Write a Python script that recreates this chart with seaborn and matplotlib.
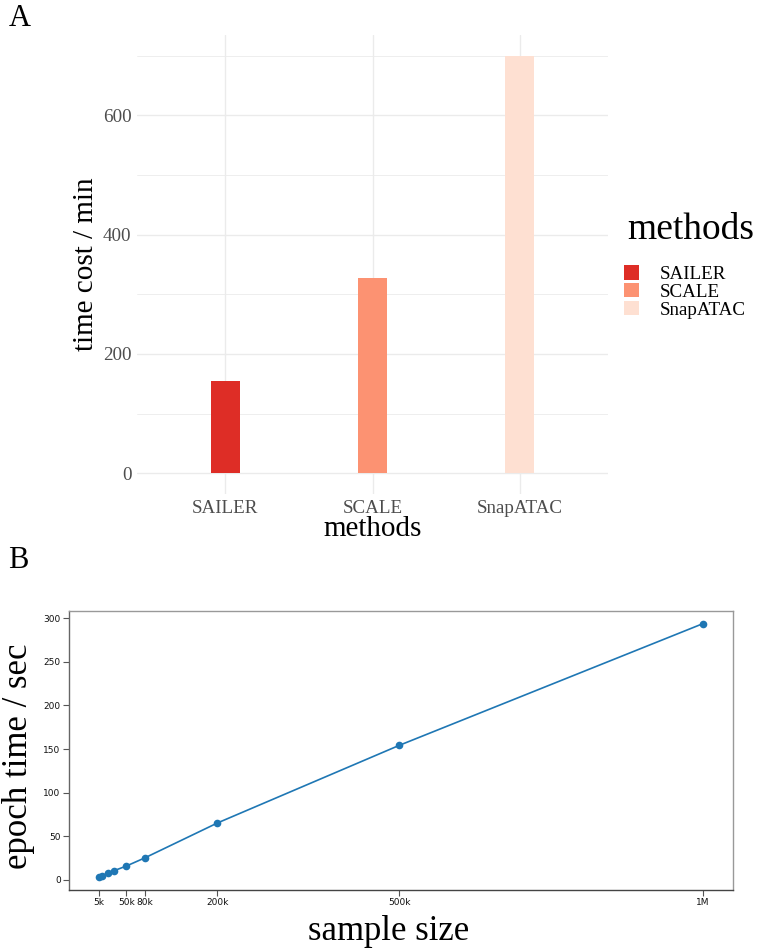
import matplotlib
matplotlib.use("Agg")
import matplotlib.pyplot as plt
from matplotlib.patches import Patch
from matplotlib.ticker import FixedLocator, MultipleLocator
import seaborn as sns
import pandas as pd

# Panel A: total run time per method
methods = ["SAILER", "SCALE", "SnapATAC"]
time_cost_min = [155, 327, 700]
method_colors = ["#DE2D26", "#FC9272", "#FEE0D2"]

# Panel B: epoch time versus number of cells
sample_sizes = [5000, 10000, 20000, 30000, 50000, 80000, 200000, 500000, 1000000]
epoch_time_sec = [3, 4.6, 8, 10.7, 16, 25.2, 65.3, 154.3, 293.6]
size_ticks = [5000, 50000, 80000, 200000, 500000, 1000000]
size_tick_labels = ["5k", "50k", "80k", "200k", "500k", "1M"]

sns.set_theme(style="white")
plt.rcParams["font.family"] = ["Liberation Serif", "DejaVu Serif"]
plt.rcParams["text.color"] = "black"
plt.rcParams["axes.labelcolor"] = "black"

W, H = 757, 948
fig = plt.figure(figsize=(W / 100, H / 100), dpi=100)


def box(left, top, right, bottom):
    return [left / W, 1 - bottom / H, (right - left) / W, (bottom - top) / H]


# ---------------- Panel A ----------------
axA = fig.add_axes(box(137, 35, 608, 494))
dfA = pd.DataFrame({"methods": methods, "time": time_cost_min})
sns.barplot(data=dfA, x="methods", y="time", hue="methods", order=methods,
            hue_order=methods, palette=method_colors, width=0.2, saturation=1,
            linewidth=0, legend=False, ax=axA)
axA.set_xlim(-0.6, 2.6)
axA.set_ylim(-35, 735)
axA.yaxis.set_major_locator(FixedLocator([0, 200, 400, 600]))
axA.yaxis.set_minor_locator(FixedLocator([100, 300, 500, 700]))
axA.grid(which="major", axis="both", color="#EBEBEB", linewidth=1.0)
axA.grid(which="minor", axis="y", color="#EBEBEB", linewidth=0.6)
axA.set_axisbelow(True)
for s in axA.spines.values():
    s.set_visible(False)
axA.tick_params(which="both", length=0, labelsize=13.7, labelcolor="#4D4D4D", pad=4)
axA.set_ylabel("time cost / min", fontsize=21, color="black")
axA.yaxis.set_label_coords((99 - 137) / 471, 0.5)
axA.set_xlabel("methods", fontsize=21, color="black")
axA.xaxis.set_label_coords(0.5, -(516 - 494) / 459)

# legend for panel A
fig.text(627 / W, 1 - 230 / H, "methods", fontsize=27, ha="left", va="center",
         color="black")
handles = [Patch(facecolor=c, edgecolor="none", label=m)
           for m, c in zip(methods, method_colors)]
fig.legend(handles=handles, loc="upper left", bbox_to_anchor=(624 / W, 1 - 265 / H),
           frameon=False, fontsize=13.7, handlelength=0.8, handleheight=0.8,
           handletextpad=1.1, labelspacing=0.0, borderpad=0, borderaxespad=0,
           labelcolor="black")

# ---------------- Panel B ----------------
axB = fig.add_axes(box(69, 611, 733, 890))
sns.lineplot(x=sample_sizes, y=epoch_time_sec, marker="o", color="#1f77b4",
             markersize=5.5, markeredgewidth=0, linewidth=1.2, ax=axB)
axB.set_xticks(size_ticks, size_tick_labels)
axB.yaxis.set_major_locator(MultipleLocator(50))
axB.tick_params(bottom=True, left=True, length=4, width=0.8, color="#555555",
                labelsize=6.5, labelcolor="#111111", pad=2)
for lab in axB.get_xticklabels() + axB.get_yticklabels():
    lab.set_family("DejaVu Sans")
for name, s in axB.spines.items():
    s.set_visible(True)
    s.set_color("#999999")
    s.set_linewidth(1.0)
axB.spines["bottom"].set_color("#444444")
axB.spines["left"].set_color("#666666")
axB.set_ylabel("epoch time / sec", fontsize=25, color="black")
axB.yaxis.set_label_coords((35 - 69) / 664, 0.48)
axB.set_xlabel("sample size", fontsize=25, color="black")
axB.xaxis.set_label_coords((389 - 69) / 664, -(915 - 890) / 279)

# panel letters
fig.text(20 / W, 1 - 18 / H, "A", fontsize=22, ha="center", va="center", color="black")
fig.text(18 / W, 1 - 561 / H, "B", fontsize=22, ha="center", va="center", color="black")

fig.savefig("out.png", dpi=100)
